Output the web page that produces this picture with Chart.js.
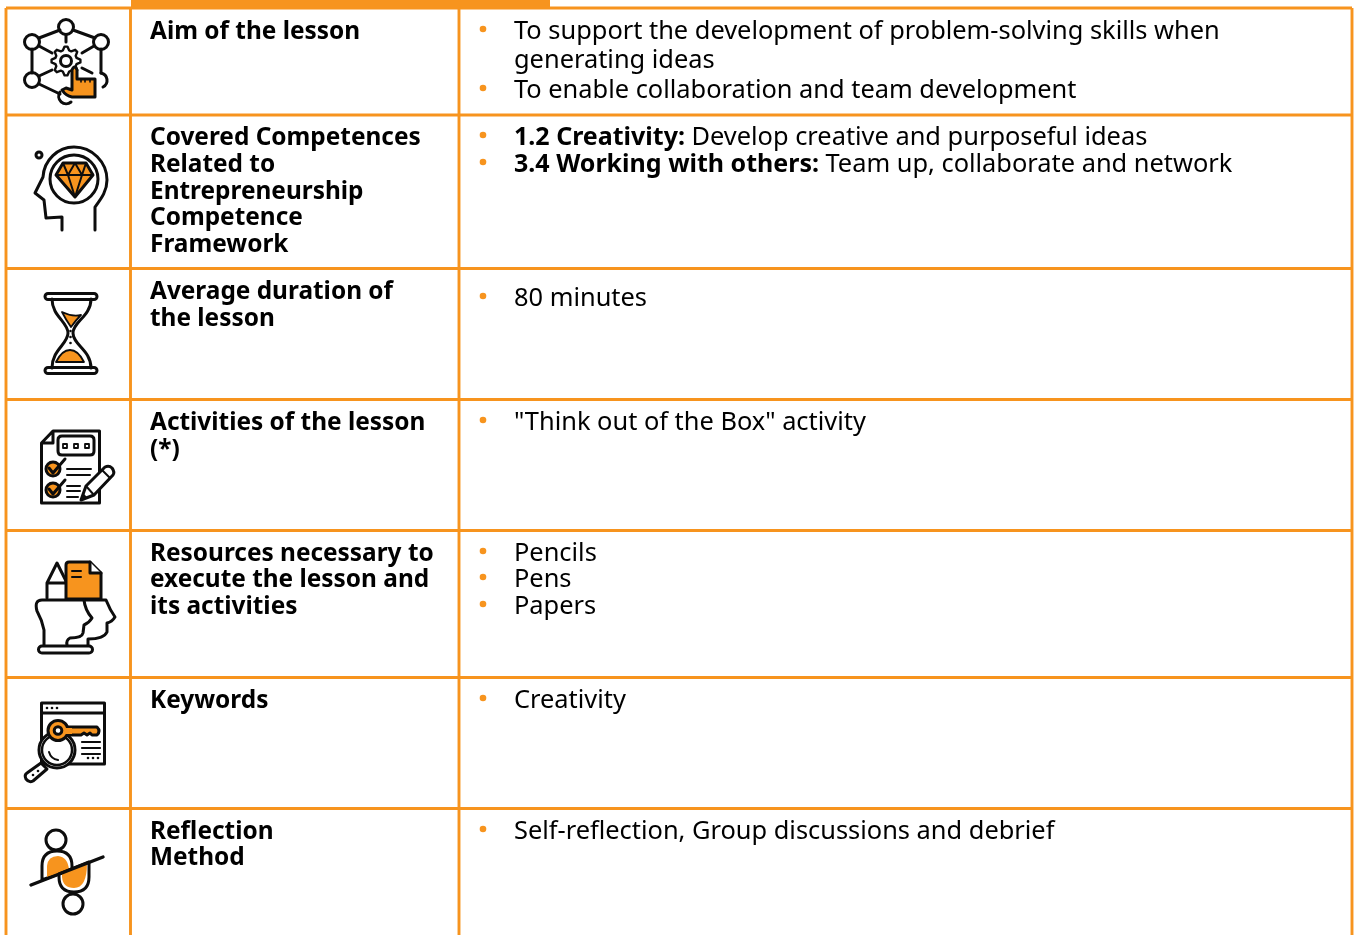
<!DOCTYPE html>
<html>
<head>
<meta charset="utf-8">
<title>Lesson overview</title>
<script src="https://cdn.jsdelivr.net/npm/chart.js@4"></script>
<style>
html, body { margin: 0; padding: 0; background: #fff; overflow: hidden; }
canvas { display: block; }
</style>
</head>
<body>
<canvas id="tabela" width="1355" height="935"></canvas>
<script>
// table structure
const columnEdges = [6, 130.5, 459, 1352];
const rowEdges = [8, 115, 268.5, 399.5, 530.5, 677.5, 808.5];
const tableBottom = 935;
const topBar = [131, 550];
const topBarY = 3.5;

// left column
const labelLines = [
    ["Aim of the lesson"],
    ["Covered Competences", "Related to", "Entrepreneurship", "Competence", "Framework"],
    ["Average duration of", "the lesson"],
    ["Activities of the lesson", "(*)"],
    ["Resources necessary to", "execute the lesson and", "its activities"],
    ["Keywords"],
    ["Reflection", "Method"]
];
const labelBaselines = [
    [39],
    [145, 172, 199, 225, 252],
    [299, 326],
    [430, 457],
    [561, 587, 614],
    [708],
    [839, 865]
];

// right column: [bold part, regular part, has bullet]
const detailLines = [
    ["", "To support the development of problem-solving skills when", true],
    ["", "generating ideas", false],
    ["", "To enable collaboration and team development", true],
    ["1.2 Creativity: ", "Develop creative and purposeful ideas", true],
    ["3.4 Working with others: ", "Team up, collaborate and network", true],
    ["", "80 minutes", true],
    ["", "\"Think out of the Box\" activity", true],
    ["", "Pencils", true],
    ["", "Pens", true],
    ["", "Papers", true],
    ["", "Creativity", true],
    ["", "Self-reflection, Group discussions and debrief", true]
];
const detailBaselines = [39, 68, 98, 145, 172, 306, 430, 561, 587, 614, 708, 839];

const laranja = "#F7941E";
const preto = "#0d0d0d";
const fonte = "'Noto Sans'";
const labelSize = 24.4;
const detailBoldSize = 25;
const detailSize = 25.4;

function regra(x1, y1, x2, y2, largura) {
    return {
        data: [{ x: x1, y: y1 }, { x: x2, y: y2 }],
        borderColor: laranja,
        borderWidth: largura || 2.9,
        pointRadius: 0,
        borderCapStyle: "butt",
        showLine: true
    };
}

const datasets = [regra(topBar[0], topBarY, topBar[1], topBarY, 7)];
rowEdges.forEach(y => datasets.push(regra(columnEdges[0], y, columnEdges[3], y)));
columnEdges.forEach(x => datasets.push(regra(x, rowEdges[0], x, tableBottom)));

// icons
function tracar(ctx, d, fill, lw) {
    const p = new Path2D(d);
    if (fill) {
        ctx.fillStyle = fill;
        ctx.fill(p);
    }
    ctx.lineWidth = lw || 3;
    ctx.stroke(p);
}
function preencher(ctx, d, fill) {
    ctx.fillStyle = fill;
    ctx.fill(new Path2D(d));
}
function circulo(x, y, r) {
    return "M" + (x + r) + " " + y + " A" + r + " " + r + " 0 1 0 " + (x - r) + " " + y + " A" + r + " " + r + " 0 1 0 " + (x + r) + " " + y + " Z";
}
function pontos(ctx, lista, r) {
    ctx.fillStyle = preto;
    lista.forEach(p => {
        ctx.beginPath();
        ctx.arc(p[0], p[1], r, 0, Math.PI * 2);
        ctx.fill();
    });
}

function iconeRede(ctx) {
    tracar(ctx, "M73 30 L95 38 M60 30 L39 38 M32 49 L32 73 M101 49 L101 73 M66 35 L66 42 M39 46 L52 53 M94 46 L82 53 M39 76 L52 70 M39 84 L60 94 M82 68 L92 73");
    [[66, 27], [32, 42], [101, 42], [32, 80]].forEach(c => tracar(ctx, circulo(c[0], c[1], 7.5)));
    tracar(ctx, "M101 73 A7.5 7.5 0 0 1 103 87 M60 92 A7.5 7.5 0 0 0 71 102");
    let g = "";
    for (let i = 0; i < 32; i++) {
        const r = (i % 4 < 2) ? 14.5 : 11;
        const a = (i - 0.5) / 32 * Math.PI * 2;
        g += (i ? "L" : "M") + (66 + r * Math.cos(a)).toFixed(1) + " " + (61 + r * Math.sin(a)).toFixed(1) + " ";
    }
    tracar(ctx, g + "Z", "#fff", 2.4);
    tracar(ctx, circulo(66, 61, 5.5));
    tracar(ctx, "M72 70 Q74.5 64 77 70 L77 79 L95 79 L95 97 L72 97 Q66 96 62 90 L66 88 L72 90 Z", laranja);
    tracar(ctx, "M81 79 L81 82 M85 79 L85 82 M90 79 L90 82", null, 1.6);
}

function iconeCabeca(ctx) {
    tracar(ctx, "M62 230 L62 217 L46 218 L44 200 L35 193 L43 177 C44 160 58 147 74 147 C92 147 107 162 107 180 C107 192 100 200 95 207 L95 230");
    tracar(ctx, circulo(74, 179, 24));
    tracar(ctx, circulo(39, 155, 3));
    tracar(ctx, "M63 163 L86 163 L93 175 L75 197 L56 175 Z", laranja);
    tracar(ctx, "M56 175 L93 175 M63 163 L68 175 L75 197 L82 175 L86 163 M68 175 L75 163 L82 175", null, 2);
}

function iconeAmpulheta(ctx) {
    tracar(ctx, "M48 293.5 L94 293.5 A3 3 0 0 1 94 299.5 L48 299.5 A3 3 0 0 1 48 293.5 Z M48 367.5 L94 367.5 A3 3 0 0 1 94 373.5 L48 373.5 A3 3 0 0 1 48 367.5 Z");
    tracar(ctx, "M52 299 C52 316 68 322 68 333 C68 344 52 350 52 368 M91 299 C91 316 73 322 73 333 C73 345 91 350 91 368");
    tracar(ctx, "M62 312 Q72 317 81 315 Q76 320 71 327 Q66 320 62 312 Z", laranja, 1.8);
    tracar(ctx, "M56 362 Q62 350 70 350 Q78 350 84 362 Z", laranja, 1.8);
    pontos(ctx, [[70.5, 331], [70.5, 337], [70.5, 343]], 1.3);
}

function iconeLista(ctx) {
    tracar(ctx, "M53 431 L99.5 431 L99.5 503 L41.5 503 L41.5 443 Z M53 431 L53 443 L41.5 443", "#fff");
    tracar(ctx, "M62 436 L90 436 Q94 436 94 440 L94 451 Q94 455 90 455 L62 455 Q58 455 58 451 L58 440 Q58 436 62 436 Z");
    tracar(ctx, "M63 444 h4 v4 h-4 Z M74 444 h4 v4 h-4 Z M85 444 h4 v4 h-4 Z", null, 1.8);
    tracar(ctx, circulo(53, 469, 7), laranja);
    tracar(ctx, circulo(53, 490, 7), laranja);
    tracar(ctx, "M49 468 L53 473 L65 459 M49 489 L53 494 L65 480");
    tracar(ctx, "M67 469 L91 469 M67 475 L90 475 M67 486 L80 486 M67 491 L80 491 M67 497 L78 497", null, 2);
    tracar(ctx, "M81 500 L86 486 L105 467 Q109 465 112 468 Q115 472 113 475 L94 495 Z", "#fff");
    tracar(ctx, "M86 486 L94 495 M102 470 L110 478", null, 2);
    preencher(ctx, "M81 500 L83 493 L88 498 Z", preto);
}

function iconeCabecas(ctx) {
    tracar(ctx, "M47 598 L47 583 L57 563 L67 583 L67 598 M47 583 L67 583", "#fff");
    tracar(ctx, "M69 562 L90 562 L101 573 L101 599 L66 599 L66 565 Q66 562 69 562 Z", laranja);
    tracar(ctx, "M90 562 L90 573 L101 573", "#fff");
    tracar(ctx, "M72 571 L81 571 M72 577 L81 577", null, 2);
    tracar(ctx, "M44 645 L44 630 Q42 620 37 611 Q34 600 42 600 L106 600 Q110 610 115 617 Q112 622 107 623 L107 632 Q104 639 88 639 L88 645");
    tracar(ctx, "M84 600 Q85 610 92 618 Q89 623 84 625 L83 633 Q82 638 70 638 Q66 640 67 645");
    tracar(ctx, "M42 646 L89 646 A3.5 3.5 0 0 1 89 653 L42 653 A3.5 3.5 0 0 1 42 646 Z");
}

function iconeChave(ctx) {
    tracar(ctx, "M41.5 703 L104.5 703 L104.5 764 L41.5 764 Z M41.5 713 L104.5 713");
    pontos(ctx, [[47, 708], [52, 708], [57, 708], [88, 758], [93, 758], [98, 758]], 1.3);
    tracar(ctx, "M82 742 L100 742 M82 748 L100 748 M82 754 L100 754", null, 2.2);
    tracar(ctx, "M41 763 L47 769 L33 781 Q29 783 26 779 Q24 775 27 773 Z", "#fff");
    pontos(ctx, [[33, 775], [38, 771]], 1.3);
    tracar(ctx, circulo(57, 750, 18), "#fff");
    tracar(ctx, circulo(57, 750, 15), null, 2.4);
    tracar(ctx, "M49 752 Q51 759 58 760", null, 2);
    tracar(ctx, "M66 727 L97 727 Q101 731 97 735 L92 735 L90 733 L87 735 L84 733 L81 735 L66 735", laranja);
    tracar(ctx, circulo(58, 730.5, 10), laranja);
    preencher(ctx, "M62 728 L72 728 L72 734 L62 734 Z", laranja);
    tracar(ctx, circulo(58, 730.5, 3.8), "#fff");
}

function iconeReflexao(ctx) {
    tracar(ctx, circulo(56, 840, 10));
    tracar(ctx, circulo(73, 904, 10));
    tracar(ctx, "M42 880 L42 866 Q42 851 57 851 Q72 851 72 866 L72 869 Z");
    preencher(ctx, "M47 877 L47 866 Q48 856 58 856 Q68 857 69 870 Z", laranja);
    tracar(ctx, "M59 874 L59 877 Q59 892 74 892 Q89 892 89 877 L89 862 Z");
    preencher(ctx, "M62 873 L62 877 Q63 888 74 888 Q87 888 87 863 Z", laranja);
    tracar(ctx, "M31 885 L103 857", null, 3.4);
}

const icones = [iconeRede, iconeCabeca, iconeAmpulheta, iconeLista, iconeCabecas, iconeChave, iconeReflexao];

const tabelaPlugin = {
    id: "tabelaPlugin",
    afterDatasetsDraw(chart) {
        const ctx = chart.ctx;
        const sx = chart.scales.x;
        const sy = chart.scales.y;

        ctx.save();
        ctx.strokeStyle = preto;
        ctx.lineJoin = "round";
        ctx.lineCap = "round";
        icones.forEach(f => f(ctx));
        ctx.restore();

        ctx.save();
        ctx.textBaseline = "alphabetic";
        ctx.fillStyle = "#000";
        ctx.font = "bold " + labelSize + "px " + fonte;
        labelLines.forEach((linhas, i) => {
            linhas.forEach((t, j) => {
                ctx.fillText(t, sx.getPixelForValue(150), sy.getPixelForValue(labelBaselines[i][j]));
            });
        });

        detailLines.forEach((l, i) => {
            const y = sy.getPixelForValue(detailBaselines[i]);
            let x = sx.getPixelForValue(514);
            if (l[2]) {
                ctx.fillStyle = laranja;
                ctx.beginPath();
                ctx.arc(sx.getPixelForValue(483), y - 10, 3.3, 0, Math.PI * 2);
                ctx.fill();
            }
            ctx.fillStyle = "#000";
            if (l[0]) {
                ctx.font = "bold " + detailBoldSize + "px " + fonte;
                ctx.fillText(l[0], x, y);
                x += ctx.measureText(l[0]).width;
            }
            ctx.font = detailSize + "px " + fonte;
            ctx.fillText(l[1], x, y);
        });
        ctx.restore();
    }
};

const tabela = new Chart(document.getElementById("tabela"), {
    type: "scatter",
    data: { datasets: datasets },
    options: {
        responsive: false,
        animation: false,
        layout: { padding: 0 },
        plugins: { legend: { display: false }, tooltip: { enabled: false } },
        scales: {
            x: { type: "linear", min: 0, max: 1355, display: false },
            y: { type: "linear", min: 0, max: 935, reverse: true, display: false }
        }
    },
    plugins: [tabelaPlugin]
});
</script>
</body>
</html>
